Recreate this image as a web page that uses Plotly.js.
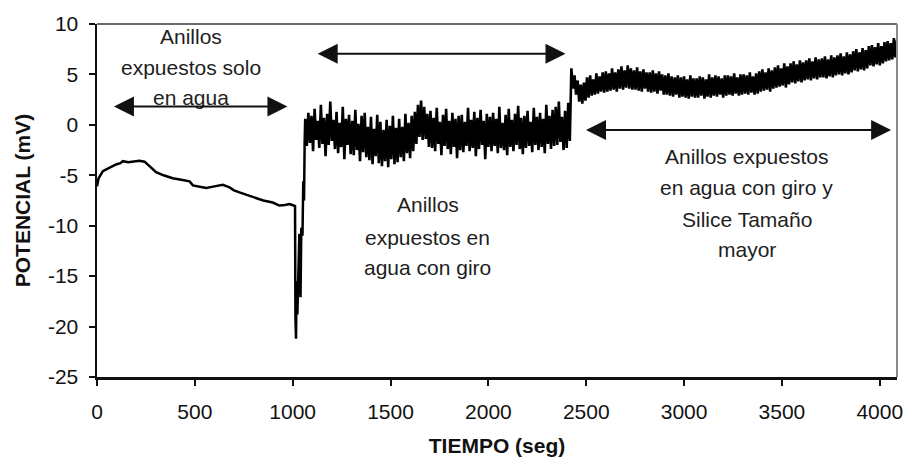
<!DOCTYPE html>
<html>
<head>
<meta charset="utf-8">
<script src="https://cdn.plot.ly/plotly-3.0.1.min.js"></script>
<style>html,body{margin:0;padding:0;background:#fff;}#chart{width:905px;height:457px;}</style>
</head>
<body>
<div id="chart"></div>
<script>
// ---- Data ----
// Phase 1: rings exposed only to water (smooth record)
const seg1T = [0, 8, 20, 30, 50, 80, 100, 120, 132, 160, 190, 217, 243, 270, 302, 340, 387, 430, 473, 490, 520, 558, 600, 643, 677, 700, 728, 770, 813, 850, 898, 932, 960, 984, 1005];
const seg1V = [-6.1, -5.3, -4.9, -4.6, -4.4, -4.1, -3.9, -3.8, -3.6, -3.7, -3.6, -3.55, -3.65, -4.1, -4.7, -5.0, -5.3, -5.45, -5.6, -6.0, -6.1, -6.25, -6.1, -5.95, -6.2, -6.5, -6.7, -7.0, -7.3, -7.5, -7.7, -8.0, -7.95, -7.85, -8.0];
// Transition (rotation starts)
const dropT = [1012, 1014, 1017, 1020, 1024, 1028, 1034, 1040, 1044, 1050, 1054, 1058, 1061];
const dropV = [-8.05, -19.0, -21.2, -15.5, -18.8, -15.6, -10.8, -17.1, -10.2, -11.0, -5.6, -7.5, -2.0];
// Phase 2: water with rotation (sampled every 8 s from 1064 s)
const seg2Start = 1064, seg2Step = 8;
const seg2V = [
  0.6, -2.1, 1.2, -1.8, 0.9, -2.6, 1.6, -1.5, 0.4, -2.3,
  2.0, -1.9, 0.7, -3.1, 1.1, -2.0, 2.3, -1.6, 0.5, -2.4,
  1.3, -2.8, 0.2, -2.2, 1.8, -3.4, 0.6, -2.0, 1.0, -2.9,
  0.4, -3.0, 1.5, -2.5, 0.1, -3.6, 0.9, -2.7, 1.2, -3.2,
  -0.2, -3.5, 0.8, -3.9, -0.4, -3.1, 1.0, -3.8, 0.3, -4.1,
  -0.5, -3.6, 0.5, -4.2, -0.1, -3.4, 0.9, -3.9, -0.3, -3.7,
  0.6, -3.2, -0.2, -3.6, 1.1, -2.8, 0.2, -3.3, 0.9, -2.6,
  1.3, -1.9, 2.0, -1.2, 2.4, -1.5, 1.8, -1.4, 1.1, -2.2,
  1.4, -2.3, 0.7, -2.6, 1.7, -1.9, 0.3, -3.0, 1.0, -2.1,
  1.6, -2.4, 0.4, -2.9, 1.2, -2.2, 0.6, -3.3, 0.9, -2.5,
  1.0, -2.7, 0.3, -2.1, 1.7, -2.6, 0.5, -2.3, 1.3, -3.1,
  0.7, -2.4, 1.5, -2.0, 0.4, -3.4, 1.1, -2.2, 0.8, -2.6,
  1.2, -2.1, 0.6, -2.8, 1.8, -2.3, 0.2, -2.5, 1.0, -3.0,
  1.6, -2.2, 0.5, -2.6, 1.1, -2.0, 1.9, -2.4, 0.7, -2.9,
  0.9, -2.3, 1.4, -2.1, 0.3, -2.7, 1.7, -2.0, 0.8, -2.5,
  1.2, -2.2, 0.6, -2.8, 2.0, -1.9, 0.9, -2.4, 1.5, -2.1,
  1.8, -2.0, 2.3, -1.7, 0.8, -2.5, 1.4, -2.3, 2.2, -1.6
];
// Phase 3: water with rotation + larger silica (sampled every 8 s from 2424 s)
const seg3Start = 2424, seg3Step = 8;
const seg3V = [
  5.6, 3.6, 4.9, 3.0, 4.4, 2.3, 4.0, 2.1, 4.2, 2.4,
  4.7, 2.7, 4.9, 2.9, 4.5, 3.0, 5.1, 3.1, 4.8, 3.3,
  5.2, 3.2, 5.3, 3.3, 5.1, 3.4, 5.6, 3.5, 5.2, 3.3,
  5.5, 3.6, 5.8, 3.5, 5.4, 3.7, 5.9, 3.6, 5.6, 3.5,
  5.4, 3.5, 5.7, 3.4, 5.3, 3.3, 5.5, 3.6, 5.2, 3.3,
  5.2, 3.2, 5.4, 3.3, 5.1, 3.1, 5.3, 3.4, 5.0, 3.0,
  4.9, 3.0, 5.1, 2.9, 4.8, 2.8, 4.7, 3.0, 4.9, 2.7,
  4.7, 2.8, 4.8, 2.7, 4.5, 2.6, 4.9, 2.8, 4.6, 2.7,
  4.6, 2.7, 4.8, 2.9, 4.7, 2.6, 4.5, 2.8, 5.0, 2.7,
  4.7, 2.9, 4.9, 2.8, 4.8, 3.0, 4.6, 2.7, 4.9, 2.9,
  4.9, 3.0, 4.8, 2.9, 5.1, 3.1, 4.7, 2.9, 5.0, 3.0,
  5.0, 3.1, 4.9, 3.0, 5.2, 3.2, 4.8, 3.0, 5.1, 3.1,
  5.3, 3.3, 5.5, 3.4, 5.2, 3.5, 5.6, 3.3, 5.4, 3.6,
  5.7, 3.7, 5.9, 3.8, 5.6, 3.9, 6.1, 3.7, 5.8, 4.0,
  6.1, 4.2, 6.3, 4.1, 6.0, 4.3, 6.4, 4.2, 6.2, 4.4,
  6.4, 4.5, 6.6, 4.4, 6.3, 4.6, 6.7, 4.5, 6.5, 4.7,
  6.6, 4.7, 6.8, 4.6, 6.5, 4.8, 6.9, 4.7, 6.7, 4.9,
  6.9, 5.0, 7.1, 4.9, 6.8, 5.1, 7.2, 5.0, 7.0, 5.2,
  7.3, 5.4, 7.5, 5.3, 7.2, 5.5, 7.6, 5.4, 7.4, 5.6,
  7.8, 5.9, 7.9, 5.8, 7.7, 6.0, 8.1, 5.9, 7.8, 6.1,
  8.2, 6.3, 8.3, 6.4, 8.1, 6.5, 8.6, 6.7, 8.4
];
const xTicks = [0, 500, 1000, 1500, 2000, 2500, 3000, 3500, 4000];
const yTicks = [-25, -20, -15, -10, -5, 0, 5, 10];
const xTitle = 'TIEMPO (seg)';
const yTitle = 'POTENCIAL (mV)';
// Phase labels: [x (s), y (mV), text]
const labelLines = [
  [478, 8.76, 'Anillos'], [478, 5.65, 'expuestos solo'], [478, 2.68, 'en agua'],
  [1689, -7.94, 'Anillos'], [1689, -11.21, 'expuestos en'], [1689, -14.19, 'agua con giro'],
  [3320, -3.17, 'Anillos expuestos'], [3320, -6.25, 'en agua con giro y'], [3320, -9.42, 'Silice Tamaño'], [3320, -12.40, 'mayor']
];
// Phase arrows: [x start, x end, y]
const arrows = [[79, 973, 1.82], [1120, 2394, 7.04], [2491, 4058, -0.5]];

// ---- Build the series ----
const t1 = [], v1 = [], t2 = [], v2 = [];
seg1T.forEach((t, i) => { t1.push(t); v1.push(seg1V[i]); });
dropT.forEach((t, i) => { t1.push(t); v1.push(dropV[i]); });
t2.push(dropT[dropT.length - 1]); v2.push(dropV[dropV.length - 1]);
seg2V.forEach((v, i) => { t2.push(seg2Start + i * seg2Step); v2.push(v); });
seg3V.forEach((v, i) => { t2.push(seg3Start + i * seg3Step); v2.push(v); });

const FONT = 'Liberation Sans, Arial, Helvetica, sans-serif';
const annotations = [];
labelLines.forEach(l => annotations.push({
  x: l[0], y: l[1], xref: 'x', yref: 'y', text: l[2], showarrow: false,
  font: {family: FONT, size: 21, color: '#1e1e1e'}, xanchor: 'center', yanchor: 'middle'
}));
arrows.forEach(a => annotations.push({
  x: a[1], y: a[2], ax: a[0], ay: a[2], xref: 'x', yref: 'y', axref: 'x', ayref: 'y',
  text: '', showarrow: true, arrowhead: 2, startarrowhead: 2, arrowside: 'end+start',
  arrowsize: 2, startarrowsize: 2, arrowwidth: 2, arrowcolor: '#111', standoff: 0, startstandoff: 0
}));

const layout = {
  width: 905, height: 457,
  margin: {l: 97, r: 8, t: 24, b: 80},
  paper_bgcolor: '#fff', plot_bgcolor: '#fff',
  showlegend: false,
  font: {family: FONT, size: 21, color: '#111'},
  xaxis: {
    range: [0, 4088], tickmode: 'array', tickvals: xTicks, ticktext: xTicks.map(String),
    showgrid: false, zeroline: false, showline: true, linecolor: '#111', linewidth: 2.5,
    ticks: 'outside', ticklen: 6, tickwidth: 2, tickcolor: '#111', ticklabelstandoff: 8,
    tickfont: {family: FONT, size: 21, color: '#111'},
    title: {text: xTitle, font: {family: FONT, size: 21, color: '#111', weight: 'bold'}, standoff: 19}
  },
  yaxis: {
    range: [-25, 10], tickmode: 'array', tickvals: yTicks, ticktext: yTicks.map(String),
    showgrid: false, zeroline: false, showline: true, linecolor: '#111', linewidth: 2.5,
    ticks: 'outside', ticklen: 6, tickwidth: 2, tickcolor: '#111', ticklabelstandoff: 6,
    tickfont: {family: FONT, size: 21, color: '#111'},
    title: {text: yTitle, font: {family: FONT, size: 21, color: '#111', weight: 'bold'}, standoff: 12}
  },
  shapes: [
    {type: 'line', xref: 'paper', yref: 'paper', x0: 0, x1: 1, y0: 1, y1: 1, line: {color: '#6a6a6a', width: 2}},
    {type: 'line', xref: 'paper', yref: 'paper', x0: 1, x1: 1, y0: 0, y1: 1, line: {color: '#8a8a8a', width: 2}}
  ],
  annotations: annotations
};

Plotly.newPlot('chart', [
  {x: t1, y: v1, type: 'scatter', mode: 'lines', line: {color: '#000', width: 2.5}, hoverinfo: 'skip'},
  {x: t2, y: v2, type: 'scatter', mode: 'lines', line: {color: '#000', width: 2.6}, hoverinfo: 'skip'}
], layout, {staticPlot: true, displayModeBar: false});
</script>
</body>
</html>
